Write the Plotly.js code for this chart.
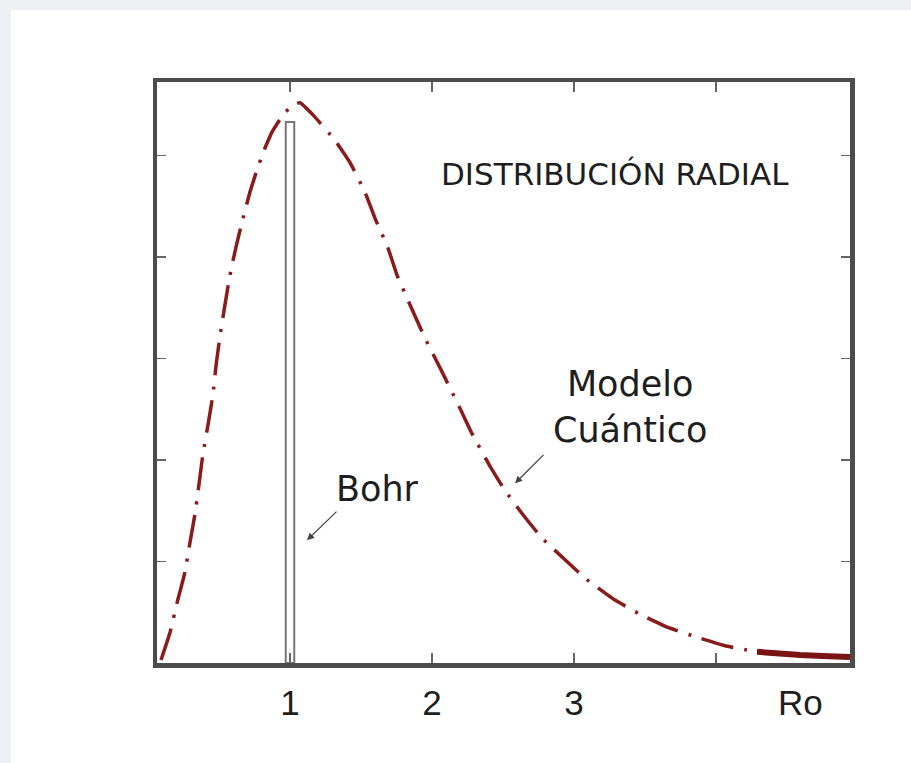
<!DOCTYPE html>
<html>
<head>
<meta charset="utf-8">
<script src="https://cdn.plot.ly/plotly-3.0.1.min.js"></script>
<style>
  html, body { margin: 0; padding: 0; background: #edeff2; width: 911px; height: 763px; overflow: hidden; }
  #chart { position: absolute; left: 11px; top: 10px; width: 900px; height: 753px; }
</style>
</head>
<body>
<div id="chart"></div>
<script>
// Radial distribution curve (quantum model)
const curveX = [0.092, 0.155, 0.204, 0.261, 0.296, 0.331, 0.359, 0.387, 0.423, 0.458, 0.479, 0.507, 0.542, 0.577, 0.620, 0.669, 0.718, 0.768, 0.817, 0.873, 0.951, 1.021, 1.070, 1.162, 1.317, 1.423, 1.528, 1.599, 1.690, 1.754, 1.845, 1.951, 2.056, 2.197, 2.282, 2.408, 2.514, 2.641, 2.775, 2.958, 3.092, 3.289, 3.465, 3.662, 3.852, 4.063, 4.289];
const curveY = [0.03, 0.30, 0.59, 0.90, 1.19, 1.47, 1.76, 2.06, 2.35, 2.65, 2.93, 3.22, 3.53, 3.82, 4.10, 4.38, 4.64, 4.86, 5.05, 5.23, 5.40, 5.50, 5.52, 5.40, 5.15, 4.93, 4.64, 4.38, 4.09, 3.82, 3.53, 3.20, 2.91, 2.51, 2.26, 1.94, 1.70, 1.46, 1.23, 0.99, 0.82, 0.62, 0.48, 0.35, 0.26, 0.17, 0.11];
// Smudged tail near the right edge
const tailX = [4.289, 4.45, 4.592, 4.75, 4.944];
const tailY = [0.11, 0.09, 0.08, 0.07, 0.06];
// Bohr model: single radius
const bohrX = [1.0];
const bohrY = [5.33];
// Axis ticks
const xTickVals = [1, 2, 3, 4];
const xTickText = ['1', '2', '3', ''];
const yTickVals = [0, 1, 2, 3, 4, 5];

const lineColor = '#8a1b1b';

const traces = [
  {
    type: 'bar', x: bohrX, y: bohrY, width: 0.06,
    marker: { color: '#ffffff', line: { color: '#777777', width: 2 } },
    hoverinfo: 'skip', showlegend: false
  },
  {
    type: 'scatter', mode: 'lines', x: curveX, y: curveY,
    line: { color: lineColor, width: 3.5, dash: '33px,11px,3px,11px', shape: 'spline', smoothing: 0.3 },
    showlegend: false, hoverinfo: 'skip'
  },
  {
    type: 'scatter', mode: 'lines', x: tailX, y: tailY,
    line: { color: '#7a1414', width: 6 },
    showlegend: false, hoverinfo: 'skip'
  }
];

const axisCommon = {
  showline: true, linecolor: '#4c4c4c', linewidth: 4.5, mirror: 'ticks',
  ticks: 'inside', tickcolor: '#666', tickwidth: 1.5, ticklen: 10,
  showgrid: false, zeroline: false, fixedrange: true
};

const textFont = { family: 'DejaVu Sans, Liberation Sans, sans-serif', color: '#1e1e1e' };
const tickFont = { family: 'Liberation Sans, Arial, sans-serif', size: 35, color: '#1e1e1e' };

const layout = {
  width: 900, height: 753,
  margin: { l: 146, r: 61, t: 72, b: 100 },
  paper_bgcolor: '#ffffff', plot_bgcolor: '#ffffff',
  showlegend: false,
  bargap: 0,
  xaxis: Object.assign({}, axisCommon, {
    range: [0.0634, 4.944],
    tickmode: 'array', tickvals: xTickVals, ticktext: xTickText,
    tickfont: tickFont,
    ticklabelstandoff: 5
  }),
  yaxis: Object.assign({}, axisCommon, {
    range: [0, 5.724],
    tickmode: 'array', tickvals: yTickVals,
    showticklabels: false, ticklen: 9
  }),
  annotations: [
    { x: 3.289, y: 4.818, xref: 'x', yref: 'y', text: 'DISTRIBUCIÓN RADIAL', showarrow: false,
      font: Object.assign({}, textFont, { size: 31 }), xanchor: 'center', yanchor: 'middle' },
    { x: 3.394, y: 2.52, xref: 'x', yref: 'y', text: 'Modelo<br>Cuántico', showarrow: false,
      font: Object.assign({}, textFont, { size: 35 }), xanchor: 'center', yanchor: 'middle', align: 'center' },
    { x: 1.613, y: 1.714, xref: 'x', yref: 'y', text: 'Bohr', showarrow: false,
      font: Object.assign({}, textFont, { size: 35 }), xanchor: 'center', yanchor: 'middle' },
    { x: 1.12, y: 1.21, xref: 'x', yref: 'y', text: '', showarrow: true,
      ax: 31, ay: -30, arrowhead: 2, arrowsize: 1.1, arrowwidth: 1.3, arrowcolor: '#444' },
    { x: 2.585, y: 1.77, xref: 'x', yref: 'y', text: '', showarrow: true,
      ax: 30, ay: -30, arrowhead: 2, arrowsize: 1.1, arrowwidth: 1.3, arrowcolor: '#444' },
    { x: 4.592, y: -0.0688, xref: 'x', yref: 'paper', text: 'Ro', showarrow: false,
      font: tickFont, xanchor: 'center', yanchor: 'middle' }
  ]
};

Plotly.newPlot('chart', traces, layout, { staticPlot: true, displayModeBar: false });
</script>
</body>
</html>
